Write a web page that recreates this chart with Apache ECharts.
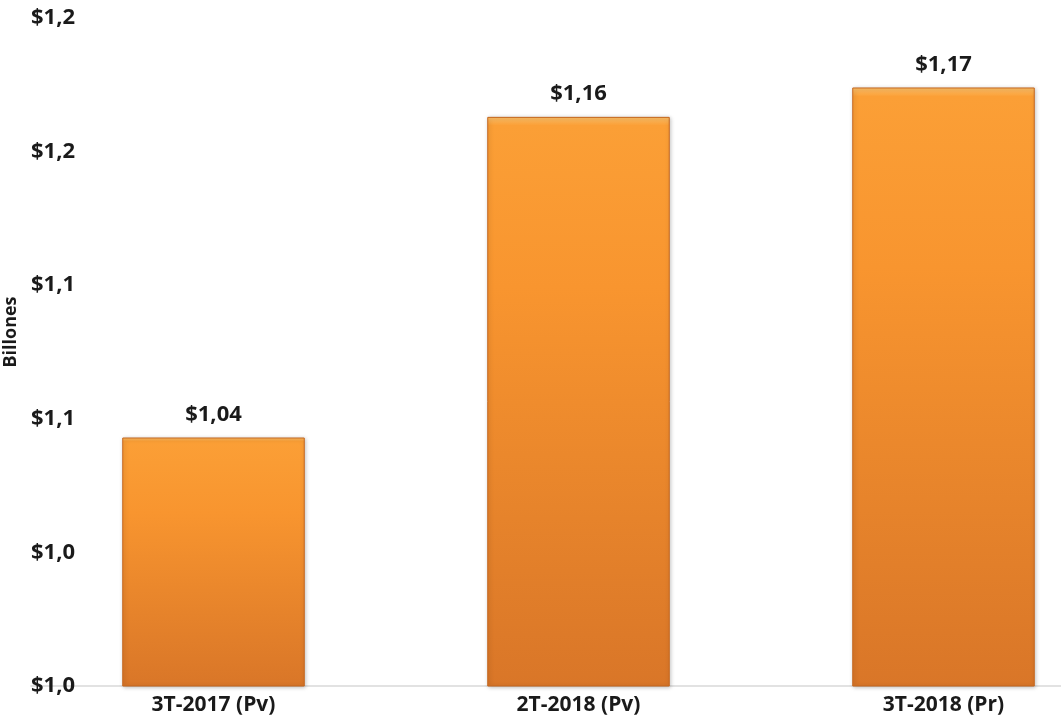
<!DOCTYPE html>
<html lang="es">
<head>
    <meta charset="UTF-8">
    <title>Billones</title>
    <style>
        body,html{
            width: 1061px;
            height: 723px;
            margin: 0;
            background: #fff;
        }
        #chart{
            width: 1061px;
            height: 723px;
        }
    </style>
</head>
<body>
<div id="chart"></div>
<script src="https://cdn.jsdelivr.net/npm/echarts@6/dist/echarts.min.js"></script>
<script type="text/javascript">

    // datos
    let categories = ['3T-2017 (Pv)', '2T-2018 (Pv)', '3T-2018 (Pr)'];
    let values = [1.043, 1.163, 1.174];
    let valueLabels = ['$1,04', '$1,16', '$1,17'];
    let yTickLabels = ['$1,0', '$1,0', '$1,1', '$1,1', '$1,2', '$1,2'];

    let fontFam = '"Open Sans", "DejaVu Sans", sans-serif';

    let myChart = echarts.init(document.getElementById('chart'));
    let option = {
        animation: false,
        grid: {
            left: 31,
            top: 18,
            right: -65,
            bottom: 37,
            outerBoundsMode: 'none',
            containLabel: false
        },
        xAxis: {
            type: 'category',
            data: categories,
            axisLine: {lineStyle: {color: '#d9d9d9', width: 1.5}},
            axisTick: {show: false},
            axisLabel: {
                color: '#1a1a1a',
                fontSize: 21,
                fontWeight: 'bold',
                fontFamily: fontFam,
                margin: 9
            }
        },
        yAxis: {
            type: 'value',
            min: 0.95,
            max: 1.20,
            interval: 0.05,
            offset: -50,
            name: 'Billones',
            nameLocation: 'middle',
            nameRotate: 90,
            nameGap: 60,
            nameTextStyle: {
                color: '#1a1a1a',
                fontSize: 18,
                fontWeight: 'bold',
                fontFamily: fontFam,
                padding: [0, 0, 0, 40]
            },
            axisLine: {show: false},
            axisTick: {show: false},
            splitLine: {show: false},
            axisLabel: {
                color: '#1a1a1a',
                fontSize: 22,
                fontWeight: 'bold',
                fontFamily: fontFam,
                margin: 6,
                formatter: function (v, i) {
                    return yTickLabels[i];
                }
            }
        },
        series: [
            {
                type: 'bar',
                data: values,
                barWidth: '50%',
                itemStyle: {
                    color: new echarts.graphic.LinearGradient(0, 0, 0, 1, [
                        {offset: 0, color: '#fcc06a'},
                        {offset: 0.015, color: '#fb9f36'},
                        {offset: 0.3, color: '#f8952f'},
                        {offset: 1, color: '#d97628'}
                    ]),
                    borderColor: '#c5661c',
                    borderWidth: 1,
                    shadowColor: 'rgba(0,0,0,0.25)',
                    shadowBlur: 4,
                    shadowOffsetX: 1,
                    shadowOffsetY: 1
                },
                label: {
                    show: true,
                    position: 'top',
                    distance: 12,
                    color: '#1a1a1a',
                    fontSize: 22,
                    fontWeight: 'bold',
                    fontFamily: fontFam,
                    formatter: function (p) {
                        return valueLabels[p.dataIndex];
                    }
                }
            }
        ]
    };
    myChart.setOption(option);
</script>
</body>
</html>
